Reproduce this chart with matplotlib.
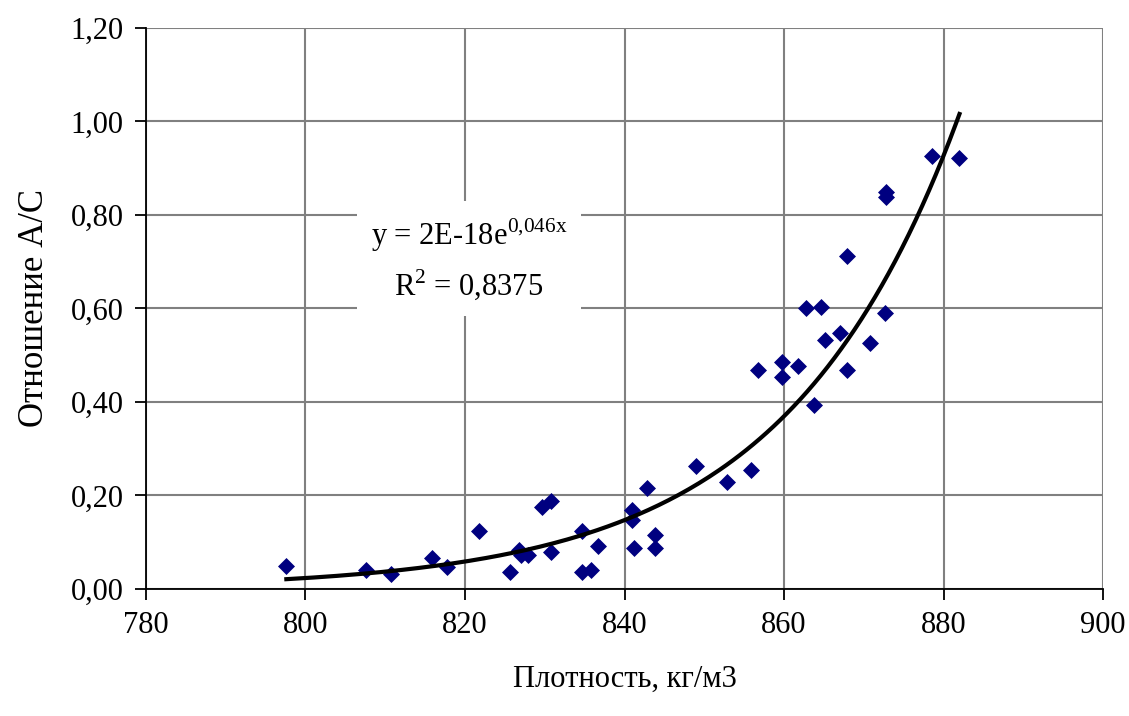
import numpy as np
import matplotlib
matplotlib.use("Agg")
import matplotlib.pyplot as plt
from matplotlib.ticker import FuncFormatter

# density (kg/m3) and A/C ratio
density = [797.6, 807.6, 810.7, 815.8, 817.8, 821.7, 825.7, 826.8, 827.0, 827.9,
           829.7, 830.8, 830.8, 834.7, 834.7, 835.8, 836.7, 840.9, 841.0, 841.2,
           842.8, 843.8, 843.8, 849.0, 852.9, 855.9, 856.8, 859.8, 859.8, 861.8,
           862.8, 864.7, 863.7, 865.2, 867.0, 867.9, 870.8, 872.6, 872.8, 872.8,
           867.9, 878.5, 882.0]
ratio = [0.049, 0.041, 0.031, 0.067, 0.048, 0.123, 0.036, 0.083, 0.073, 0.073,
         0.176, 0.189, 0.080, 0.125, 0.036, 0.041, 0.093, 0.169, 0.148, 0.088,
         0.215, 0.116, 0.087, 0.263, 0.228, 0.255, 0.468, 0.486, 0.454, 0.476,
         0.600, 0.604, 0.394, 0.533, 0.547, 0.468, 0.526, 0.591, 0.850, 0.838,
         0.713, 0.927, 0.921]

eq_text = r"y = 2E-18e$^{\mathrm{0{,}046x}}$"
r2_text = r"R$^{\mathrm{2}}$ = 0,8375"

plt.rcParams["font.family"] = ["Liberation Serif"]
plt.rcParams["mathtext.fontset"] = "custom"
plt.rcParams["mathtext.rm"] = "Liberation Serif"

x = np.array(density)
y = np.array(ratio)

# exponential trend line, fitted on log(y)
b, ln_a = np.polyfit(x, np.log(y), 1)
xs = np.linspace(x.min(), x.max(), 200)
ys = np.exp(ln_a) * np.exp(b * xs)

fig = plt.figure(figsize=(11.29, 7.16), dpi=100)
ax = fig.add_axes([0.1293, 0.1774, 0.8477, 0.7835])

ax.scatter(x, y, marker="D", s=75, color="#000080", zorder=3, linewidths=0)
ax.plot(xs, ys, color="black", lw=3, zorder=4)

ax.set_xlim(780, 900)
ax.set_ylim(0, 1.2)
ax.set_xticks(np.arange(780, 901, 20))
ax.set_yticks(np.arange(0, 1.21, 0.2))
ax.yaxis.set_major_formatter(FuncFormatter(lambda v, p: f"{v:.2f}".replace(".", ",")))
ax.grid(True, color="#808080", lw=1.5)
ax.set_axisbelow(True)
for s in ["top", "right"]:
    ax.spines[s].set_visible(False)
for s in ["left", "bottom"]:
    ax.spines[s].set_color("black")
    ax.spines[s].set_linewidth(1.3)
ax.tick_params(labelsize=22, direction="out", length=8, width=1.3, pad=8)

ax.set_xlabel("Плотность, кг/м3", fontsize=22, labelpad=18)
ax.set_ylabel("Отношение А/С", fontsize=25, labelpad=14)

ax.text(820.5, 0.705, eq_text + "\n" + r2_text, fontsize=22, ha="center", va="center",
        linespacing=1.45, zorder=5,
        bbox=dict(facecolor="white", edgecolor="none", pad=10))

fig.savefig("out.png", dpi=100)
